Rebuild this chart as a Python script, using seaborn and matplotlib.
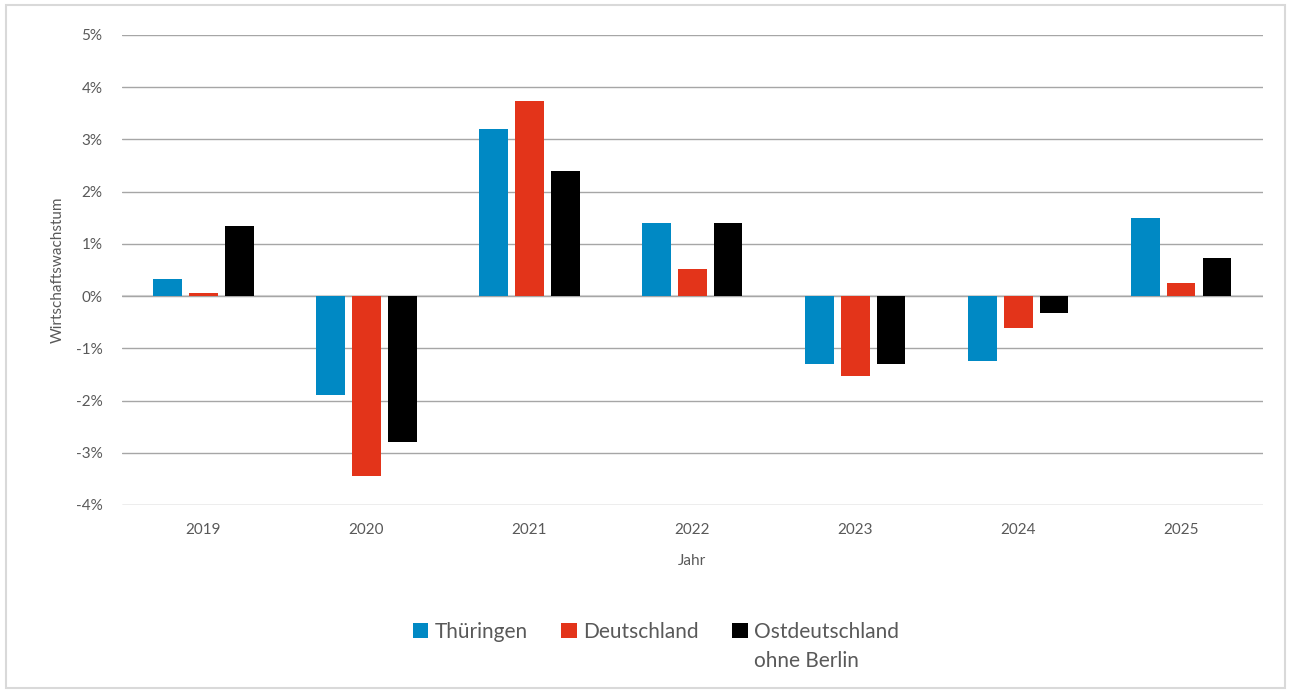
import pandas as pd
import matplotlib.pyplot as plt
import seaborn as sns
from matplotlib.ticker import PercentFormatter
from matplotlib.patches import Rectangle

years = ['2019', '2020', '2021', '2022', '2023', '2024', '2025']
regions = ['Thüringen', 'Deutschland', 'Ostdeutschland']
thueringen = [0.33, -1.90, 3.20, 1.40, -1.30, -1.25, 1.50]
deutschland = [0.05, -3.45, 3.74, 0.52, -1.53, -0.61, 0.25]
ostdeutschland = [1.34, -2.80, 2.40, 1.40, -1.30, -0.33, 0.73]
colors = ['#0089C4', '#E3341A', '#000000']

df = pd.DataFrame({
    'Jahr': years * 3,
    'Region': [r for r in regions for _ in years],
    'Wert': thueringen + deutschland + ostdeutschland,
})

sns.set_style('white')
plt.rcParams['font.family'] = ['Lato', 'DejaVu Sans']
plt.rcParams['axes.unicode_minus'] = False

fig = plt.figure(figsize=(12.91, 6.93), dpi=100)
ax = fig.add_axes([0.0945, 0.2713, 0.8835, 0.6782])

sns.barplot(data=df, x='Jahr', y='Wert', hue='Region', palette=colors,
            width=0.66, gap=0.2, saturation=1, linewidth=0,
            ax=ax, legend=True)

ax.set_ylim(-4, 5)
ax.set_yticks(range(-4, 6))
ax.yaxis.set_major_formatter(PercentFormatter(decimals=0))
ax.grid(axis='y', color='#A6A6A6', linewidth=1)
ax.set_axisbelow(True)
ax.axhline(0, color='#D9D9D9', linewidth=1.5, zorder=0.5)
for s in ax.spines.values():
    s.set_visible(False)
ax.tick_params(axis='y', length=0, labelsize=11, colors='#595959', pad=14)
ax.tick_params(axis='x', length=0, labelsize=11, colors='#595959', pad=13)
ax.set_xlabel('Jahr', fontsize=11, color='#595959', labelpad=12)
ax.set_ylabel('Wirtschaftswachstum', fontsize=11, color='#595959', labelpad=8)

leg = ax.legend(loc='upper center', bbox_to_anchor=(0.468, -0.227), ncol=3,
                frameon=False, fontsize=15, labelcolor='#595959',
                handlelength=0.75, handleheight=0.75, handletextpad=0.3,
                columnspacing=1.6, borderpad=0)

# second line of the third legend entry
fig.canvas.draw()
t = leg.get_texts()[2]
bb = t.get_window_extent()
fig.text(bb.x0 / fig.bbox.width, (bb.y0 - 9) / fig.bbox.height, 'ohne Berlin',
         ha='left', va='top', fontsize=15, color='#595959')

fig.patches.append(Rectangle((0.005, 0.007), 0.99, 0.986, transform=fig.transFigure,
                             fill=False, edgecolor='#D9D9D9', linewidth=1.5))

fig.savefig('out.png', dpi=100)
